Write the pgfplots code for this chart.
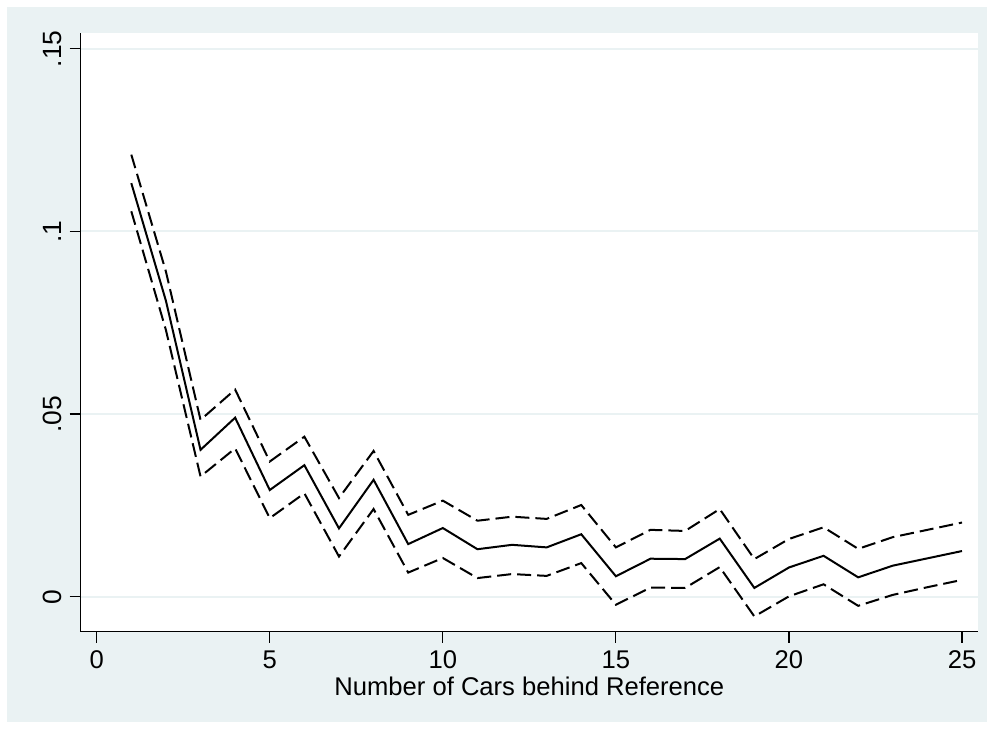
\documentclass[border=0pt]{standalone}
\usepackage{fontspec}
\setmainfont{Liberation Sans}
\usepackage{pgfplots}
\pgfplotsset{compat=1.18}
\definecolor{bgc}{RGB}{234,242,243}
\definecolor{gridc}{RGB}{234,242,243}
\pgfplotstableread{
x c u l
1 0.1132 0.1210 0.1055
2 0.0810 0.0890 0.0730
3 0.0402 0.0484 0.0329
4 0.0490 0.0567 0.0406
5 0.0292 0.0370 0.0215
6 0.0360 0.0438 0.0283
7 0.0187 0.0270 0.0110
8 0.0320 0.0399 0.0240
9 0.0144 0.0224 0.0066
10 0.0188 0.0263 0.0106
11 0.0130 0.0208 0.0051
12 0.0142 0.0219 0.0062
13 0.0135 0.0213 0.0057
14 0.0171 0.0251 0.0092
15 0.0056 0.0135 -0.0022
16 0.0104 0.0183 0.0025
17 0.0103 0.0180 0.0024
18 0.0159 0.0240 0.0081
19 0.0024 0.0103 -0.0054
20 0.0080 0.0158 0.0001
21 0.0112 0.0190 0.0034
22 0.0053 0.0131 -0.0025
23 0.0085 0.0163 0.0005
24 0.0105 0.0183 0.0026
25 0.0125 0.0203 0.0046
}\datatable
\begin{document}
\begin{tikzpicture}
\fill[white] (-40.35pt,-48.65pt) rectangle (456.65pt,315.85pt);
\fill[bgc] (-36.85pt,-45.15pt) rectangle (453.15pt,312.35pt);
\begin{axis}[
  at={(0,0)}, anchor=south west,
  scale only axis, width=448.65pt, height=299.5pt,
  xmin=-0.462, xmax=25.462, ymin=-0.00958, ymax=0.15438,
  axis x line*=bottom, axis y line*=left,
  axis line style={-, line width=0.6pt, black},
  axis background/.style={fill=white},
  xtick={0,5,10,15,20,25},
  ytick={0,0.05,0.1,0.15},
  yticklabels={0,.05,.1,.15},
  tick align=outside, major tick length=5.5pt,
  tick style={line width=0.6pt, black},
  ymajorgrids, major grid style={draw=gridc, line width=1pt},
  /pgf/number format/assume math mode=true,
  xticklabel style={font=\fontsize{12.8}{15}\selectfont, anchor=base, yshift=-12.65pt},
  yticklabel style={font=\fontsize{13.2}{15}\selectfont, xshift=-4pt, rotate=90, anchor=base},
  typeset ticklabels with strut=false,
  xlabel={Number of Cars behind Reference},
  xlabel style={font=\fontsize{12.8}{15}\selectfont, at={(axis description cs:0.5,0)}, anchor=base, yshift=-31.65pt},
  clip=false,
]
\addplot[black, line width=1pt] table[x=x,y=c] {\datatable};
\addplot[black, line width=1pt, dash pattern=on 7pt off 3pt] table[x=x,y=u] {\datatable};
\addplot[black, line width=1pt, dash pattern=on 7pt off 3pt] table[x=x,y=l] {\datatable};
\end{axis}
\end{tikzpicture}
\end{document}
